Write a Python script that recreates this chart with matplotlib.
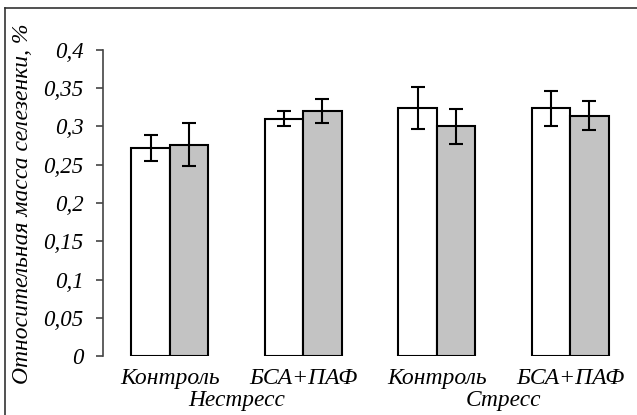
import numpy as np
import matplotlib.pyplot as plt
from matplotlib.lines import Line2D

plt.rcParams['font.family'] = ['Liberation Serif', 'DejaVu Serif']
plt.rcParams['font.style'] = 'italic'

# данные
categories = ['Контроль', 'БСА+ПАФ', 'Контроль', 'БСА+ПАФ']
groups = ['Нестресс', 'Стресс']
white_vals = [0.272, 0.310, 0.324, 0.324]
white_err = [0.017, 0.010, 0.027, 0.023]
gray_vals = [0.276, 0.320, 0.300, 0.314]
gray_err = [0.028, 0.016, 0.023, 0.019]
yticks = [0, 0.05, 0.1, 0.15, 0.2, 0.25, 0.3, 0.35, 0.4]
ytick_labels = ['0', '0,05', '0,1', '0,15', '0,2', '0,25', '0,3', '0,35', '0,4']

fig = plt.figure(figsize=(6.37, 4.15), dpi=100)
ax = fig.add_axes([103 / 637, (415 - 356) / 415, 1 - 103 / 637, 306 / 415])

x = np.arange(len(categories))
w = 0.287
err_kw = dict(ecolor='black', elinewidth=1.5, capsize=5, capthick=1.5)
ax.bar(x - w / 2, white_vals, w, yerr=white_err, color='white',
       edgecolor='black', linewidth=1.5, error_kw=err_kw)
ax.bar(x + w / 2, gray_vals, w, yerr=gray_err, color='#c3c3c3',
       edgecolor='black', linewidth=1.5, error_kw=err_kw)

ax.set_xlim(-0.5, 3.5)
ax.set_ylim(0, 0.4)
ax.set_yticks(yticks)
ax.set_yticklabels(ytick_labels, fontsize=16.5)
ax.set_xticks([])
ax.tick_params(axis='y', length=5, width=1.2, color='#444444', pad=9)
for s in ['top', 'right', 'bottom']:
    ax.spines[s].set_visible(False)
ax.spines['left'].set_color('#444444')
ax.spines['left'].set_linewidth(1.2)

# подписи категорий и групп
trans = ax.get_xaxis_transform()
for xi, c in zip(x, categories):
    ax.text(xi, -0.072, c, ha='center', va='center', fontsize=17, transform=trans)
for i, g in enumerate(groups):
    ax.text(2 * i + 0.5, -0.147, g, ha='center', va='center', fontsize=16.8, transform=trans)

fig.text(23 / 637, 0.508, 'Относительная масса селезенки, %', rotation=90,
         ha='center', va='center', fontsize=17)

# рамка
fig.add_artist(Line2D([5 / 637, 5 / 637], [0, 1 - 8 / 415], color='#333333', lw=1.2))
fig.add_artist(Line2D([5 / 637, 1], [1 - 8 / 415, 1 - 8 / 415], color='#333333', lw=1.2))

fig.savefig('out.png', dpi=100)
